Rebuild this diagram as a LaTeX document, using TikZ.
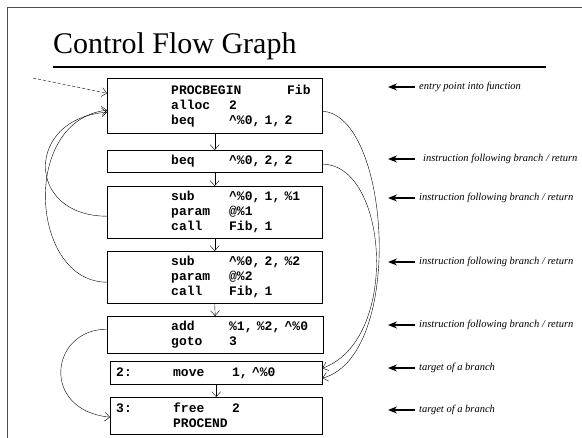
\documentclass[tikz,border=0pt]{standalone}
\usepackage{fontspec}
\setmainfont{Liberation Serif}
\newfontfamily\codefont{Liberation Mono}
\usetikzlibrary{arrows.meta,calc}

% one instruction: opcode column, then operands
\newcommand{\ins}[2]{\hspace*{58pt}\makebox[58pt][l]{#1}#2}
% labelled instruction
\newcommand{\lins}[3]{\makebox[57pt][l]{#1}\makebox[59pt][l]{#2}#3}
\newcommand{\crt}{\textasciicircum}

\begin{document}
\begin{tikzpicture}[
    x=1pt, y=-1pt,
    block/.style={rectangle, draw, anchor=north west, inner xsep=6pt, inner ysep=0pt, align=left, font=\codefont\bfseries\fontsize{13}{15}\selectfont},
    note/.style={anchor=west, inner xsep=4pt, inner ysep=1pt, font=\itshape\fontsize{10.5}{12}\selectfont},
    flow/.style={-{Straight Barb[length=5pt,width=9pt]}, thin},
    dashflow/.style={flow, densely dashed},
    pointer/.style={-{Stealth[length=9pt,width=7pt]}, line width=1.6pt},
    underline/.style={line width=2.5pt},
    slideframe/.style={black!70, line width=0.8pt}
]
    \useasboundingbox (0,0) rectangle (582,438);
    \clip (0,0) rectangle (582,438);

    % Slide frame and title
    \draw[slideframe] (582,7) -- (7,7) -- (7,438);
    \node[anchor=base west, inner sep=0pt, font=\fontsize{30}{34}\selectfont] (title) at (53,54) {Control Flow Graph};
    \draw[underline] (53,67) -- (546,67);

    % Basic blocks
    \node[block, text width=203pt, minimum height=55pt] (b1) at (107,78)
        {\hspace*{58pt}\makebox[116pt][l]{PROCBEGIN}Fib\\\ins{alloc}{2}\\\ins{beq}{\crt\%0, 1, 2}};
    \node[block, text width=203pt, minimum height=22pt] (b2) at (107,150)
        {\ins{beq}{\crt\%0, 2, 2}};
    \node[block, text width=203pt, minimum height=52pt] (b3) at (107,186)
        {\ins{sub}{\crt\%0, 1, \%1}\\\ins{param}{@\%1}\\\ins{call}{Fib, 1}};
    \node[block, text width=203pt, minimum height=52pt] (b4) at (107,251)
        {\ins{sub}{\crt\%0, 2, \%2}\\\ins{param}{@\%2}\\\ins{call}{Fib, 1}};
    \node[block, text width=204pt, minimum height=37pt] (b5) at (107,316)
        {\ins{add}{\%1, \%2, \crt\%0}\\\ins{goto}{3}};
    \node[block, text width=200pt, minimum height=23pt] (b6) at (110,361)
        {\lins{2:}{move}{1, \crt\%0}};
    \node[block, text width=200pt, minimum height=37pt] (b7) at (110,397)
        {\lins{3:}{free}{2}\\\lins{}{PROCEND}{}};

    % Entry
    \coordinate (entry) at (33,78);
    \draw[dashflow] (entry) -- ($(b1.west)+(0,-12.5)$);

    % Fall through
    \draw[flow] (b1.south) -- (b2.north);
    \draw[flow] (b2.south) -- (b3.north);
    \draw[flow] (b3.south) -- (b4.north);
    \draw[flow] (b4.south) -- (b5.north);
    \draw[flow] (b6.south) -- (b7.north);

    % Returns from calls
    \draw[flow] ($(b3.west)+(0,4)$) .. controls +(-82,0) and +(-82,6) .. ($(b1.west)+(0,6.5)$);
    \draw[flow] ($(b4.west)+(0,5)$) .. controls +(-77,0) and +(-87,10) .. ($(b1.west)+(0,4.5)$);

    % Branches
    \draw[flow] ($(b5.west)+(0,-5.5)$) .. controls +(-57,0) and +(-70,-7) .. ($(b7.west)+(0,1.5)$);
    \draw[flow] ($(b1.east)+(0,5.5)$) .. controls +(68,4) and +(83,-23) .. ($(b6.east)+(0,5.5)$);
    \draw[flow] ($(b2.east)+(0,3)$) .. controls +(66,0) and +(78,-28) .. ($(b6.east)+(0,-4.5)$);

    % Notes
    \node[note] (n1) at (415,87) {entry point into function};
    \node[note] (n2) at (415,159) {\hspace*{4pt}instruction following branch / return};
    \node[note] (n3) at (415,198) {instruction following branch / return};
    \node[note] (n4) at (415,262) {instruction following branch / return};
    \node[note] (n5) at (415,325) {instruction following branch / return};
    \node[note] (n6) at (415,368) {target of a branch};
    \node[note] (n7) at (415,410) {target of a branch};
    \coordinate (t1) at (388,87);
    \coordinate (t2) at (388,159);
    \coordinate (t3) at (388,198);
    \coordinate (t4) at (388,262);
    \coordinate (t5) at (388,325);
    \coordinate (t6) at (388,368);
    \coordinate (t7) at (388,410);
    \draw[pointer] (n1.west) -- (t1);
    \draw[pointer] (n2.west) -- (t2);
    \draw[pointer] (n3.west) -- (t3);
    \draw[pointer] (n4.west) -- (t4);
    \draw[pointer] (n5.west) -- (t5);
    \draw[pointer] (n6.west) -- (t6);
    \draw[pointer] (n7.west) -- (t7);
\end{tikzpicture}
\end{document}
